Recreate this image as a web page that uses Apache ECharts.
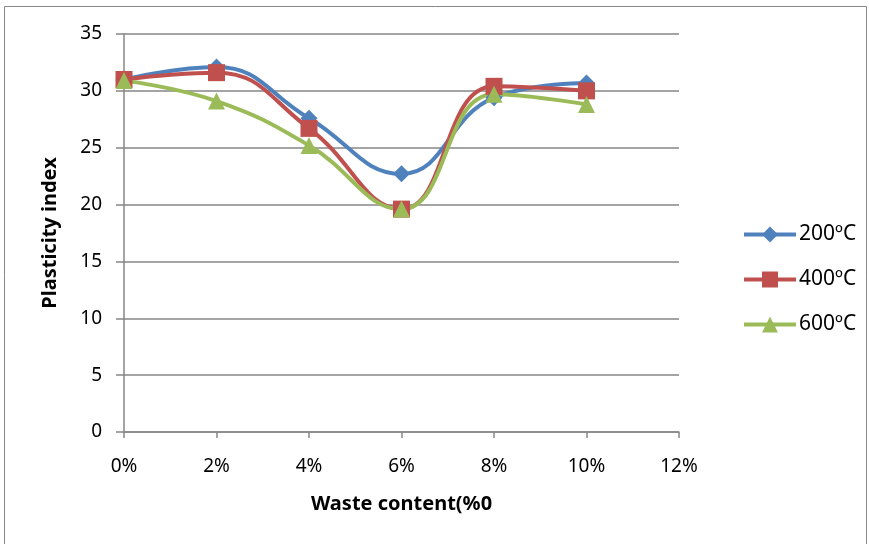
<!DOCTYPE html>
<html><head><meta charset="utf-8">
<script src="https://cdn.jsdelivr.net/npm/echarts@6/dist/echarts.min.js"></script>
<style>html,body{margin:0;padding:0;background:#fff}#c{width:869px;height:544px}</style>
</head><body><div id="c"></div>
<script>
const wasteContent = [0, 2, 4, 6, 8, 10];
const xTicks = [0, 2, 4, 6, 8, 10, 12];
const s200 = [31.0, 32.1, 27.6, 22.7, 29.4, 30.7];
const s400 = [31.0, 31.6, 26.7, 19.6, 30.4, 30.0];
const s600 = [30.9, 29.1, 25.2, 19.6, 29.7, 28.8];
const seriesNames = ['200ºC', '400ºC', '600ºC'];

const chart = echarts.init(document.getElementById('c'));
const font = '"Noto Sans", sans-serif';
const mk = (name, vals, color, symbol, size) => ({
  name, type: 'line', smooth: 0.45,
  data: wasteContent.map((x, i) => [x, vals[i]]),
  symbol, symbolSize: size,
  lineStyle: { color, width: 4 },
  itemStyle: { color },
  emphasis: { disabled: true }
});
chart.setOption({
  animation: false,
  graphic: [{ type: 'rect', shape: { x: 4.5, y: 6.5, width: 862, height: 545 }, style: { fill: 'none', stroke: '#888', lineWidth: 1 } }],
  grid: { left: 124, right: 190, top: 34, bottom: 112 },
  xAxis: {
    type: 'value', min: 0, max: 12, interval: 2,
    name: 'Waste content(%0', nameLocation: 'middle', nameGap: 62,
    nameTextStyle: { fontFamily: font, fontWeight: 'bold', fontSize: 20, color: '#000' },
    axisLine: { lineStyle: { color: '#868686', width: 1.5 } },
    axisTick: { show: true, length: 6, lineStyle: { color: '#868686', width: 1.5 } },
    axisLabel: { fontFamily: font, fontSize: 19, color: '#000', margin: 25, formatter: v => v + '%' },
    splitLine: { show: false }
  },
  yAxis: {
    type: 'value', min: 0, max: 35, interval: 5,
    name: 'Plasticity index', nameLocation: 'middle', nameGap: 64, nameRotate: 90,
    nameTextStyle: { fontFamily: font, fontWeight: 'bold', fontSize: 20, color: '#000' },
    axisLine: { show: true, lineStyle: { color: '#868686', width: 1.5 } },
    axisTick: { show: true, length: 8, lineStyle: { color: '#868686', width: 1.5 } },
    axisLabel: { fontFamily: font, fontSize: 19, color: '#000', margin: 22 },
    splitLine: { lineStyle: { color: '#868686', width: 1.5 } }
  },
  legend: {
    orient: 'vertical', left: 737, top: 219, itemGap: 24,
    itemWidth: 52, itemHeight: 20,
    lineStyle: { width: 4 },
    textStyle: { fontFamily: font, fontSize: 21, color: '#000', padding: [0, 0, 0, -2] },
    data: seriesNames
  },
  series: [
    mk(seriesNames[0], s200, '#4F81BD', 'diamond', 17),
    mk(seriesNames[1], s400, '#C0504D', 'rect', 17),
    mk(seriesNames[2], s600, '#9BBB59', 'triangle', 17)
  ]
});
</script></body></html>
